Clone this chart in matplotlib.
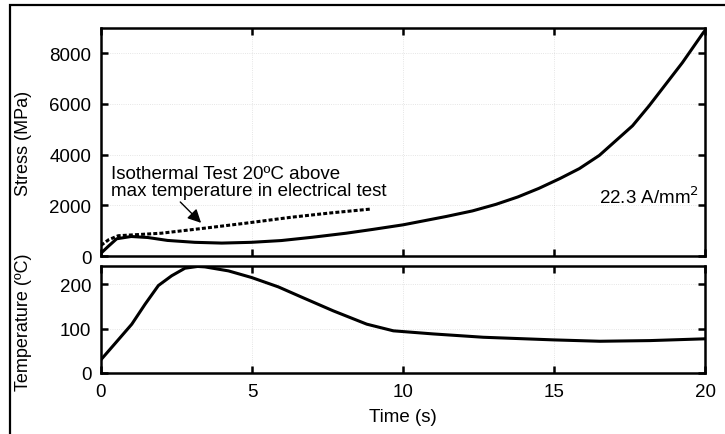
import numpy as np
import matplotlib.pyplot as plt
from matplotlib.patches import Rectangle

plt.rcParams['font.family'] = ['Liberation Sans', 'DejaVu Sans']
plt.rcParams['font.size'] = 13.5

# Electrical test stress (MPa) vs time (s)
stress_t = [0.0, 0.24, 0.52, 1.0, 1.55, 2.2, 3.1, 4.0, 4.98, 5.97, 7.0, 8.12, 9.0, 10.0, 11.43,
            12.3, 13.08, 13.8, 14.5, 15.2, 15.84, 16.5, 17.6, 18.15, 18.7, 19.25, 19.94, 20.0]
stress_v = [110, 380, 680, 770, 730, 615, 540, 510, 540, 610, 740, 900, 1050, 1230, 1560,
            1780, 2040, 2330, 2670, 3060, 3450, 3970, 5140, 5930, 6780, 7630, 8810, 8900]

# Isothermal test (dotted)
iso_t = [0.0, 0.25, 0.57, 2.0, 3.44, 4.76, 6.3, 7.6, 8.95]
iso_v = [420, 640, 800, 900, 1100, 1290, 1530, 1700, 1855]

# Temperature (ºC) vs time (s)
temp_t = [0.0, 0.46, 1.02, 1.46, 1.9, 2.34, 2.78, 3.2, 3.44, 4.22, 4.99, 5.87, 6.64, 7.69, 8.8,
          9.68, 11.0, 12.66, 14.98, 16.52, 18.18, 20.0]
temp_v = [30, 66, 110, 155, 197, 219, 236, 240, 239, 230, 215, 194, 171, 140, 110,
          95, 88, 80.5, 74.6, 71.5, 73, 77]

stress_ticks = [0, 2000, 4000, 6000, 8000]
temp_ticks = [0, 100, 200]
time_ticks = [0, 5, 10, 15, 20]

fig = plt.figure(figsize=(7.25, 4.35), dpi=100)
ax1 = fig.add_axes([101/725, 1 - 257/435, 604/725, 228/435])
ax2 = fig.add_axes([101/725, 1 - 374/435, 604/725, 107/435])

# outer frame, cut off at right and bottom like the reference
fig.patches.append(Rectangle((10/725, -0.2), 1.5, 1.2 - 6/435, transform=fig.transFigure,
                             fill=False, edgecolor='black', linewidth=1.6, clip_on=False))

ax1.plot(stress_t, stress_v, color='black', linewidth=2.2)
ax1.plot(iso_t, iso_v, color='black', linewidth=2.2, linestyle=(0, (1.3, 0.7)))
ax1.set_xlim(0, 20)
ax1.set_ylim(0, 9000)
ax1.set_yticks(stress_ticks)
ax1.set_xticks(time_ticks)
ax1.set_xticklabels([])
ax1.set_ylabel("Stress (MPa)", fontsize=13)
ax1.yaxis.set_label_coords(-0.114, 0.5)

ax1.text(0.33, 2920, "Isothermal Test 20ºC above\nmax temperature in electrical test",
         ha='left', va='center', linespacing=1.0)
ax1.annotate("", xy=(3.38, 1230), xytext=(2.56, 2210),
             arrowprops=dict(arrowstyle='-|>', color='black', lw=1.0, mutation_scale=20))
ax1.text(16.5, 2350, "22.3 A/mm$^2$", ha='left', va='center')

ax2.plot(temp_t, temp_v, color='black', linewidth=2.2)
ax2.set_xlim(0, 20)
ax2.set_ylim(0, 241)
ax2.set_yticks(temp_ticks)
ax2.set_xticks(time_ticks)
ax2.set_xlabel("Time (s)", labelpad=6)
ax2.set_ylabel("Temperature (ºC)", fontsize=13)
ax2.yaxis.set_label_coords(-0.114, 0.48)

for ax in (ax1, ax2):
    for s in ax.spines.values():
        s.set_linewidth(1.8)
    ax.tick_params(direction='in', top=True, right=True, length=5, width=1.8, pad=7)
    ax.grid(True, color='#bbbbbb', linestyle=':', linewidth=0.6, alpha=0.5)

fig.savefig("out.png", dpi=100)
